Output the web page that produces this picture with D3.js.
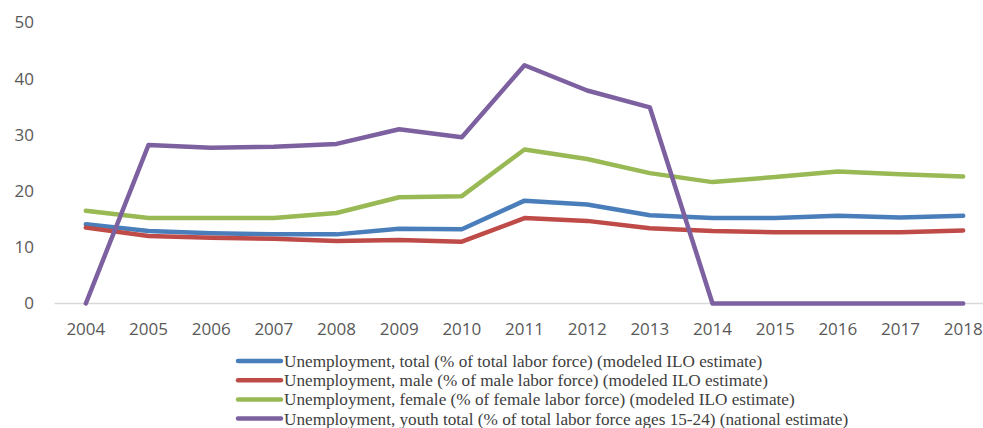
<!DOCTYPE html>
<html>
<head>
<meta charset="utf-8">
<script src="https://cdn.jsdelivr.net/npm/d3@7"></script>
<style>
  body { margin: 0; background: #fff; }
  svg { display: block; }
</style>
</head>
<body>
<script>
// Chart data
const years = [2004, 2005, 2006, 2007, 2008, 2009, 2010, 2011, 2012, 2013, 2014, 2015, 2016, 2017, 2018];
const totalRate  = [14.1, 12.9, 12.5, 12.3, 12.3, 13.3, 13.2, 18.3, 17.6, 15.7, 15.2, 15.2, 15.6, 15.3, 15.6];
const maleRate   = [13.5, 12.0, 11.7, 11.5, 11.1, 11.3, 11.0, 15.2, 14.7, 13.4, 12.9, 12.7, 12.7, 12.7, 13.0];
const femaleRate = [16.5, 15.2, 15.2, 15.2, 16.1, 18.9, 19.1, 27.4, 25.7, 23.2, 21.6, 22.5, 23.5, 23.0, 22.6];
const youthRate  = [0, 28.2, 27.7, 27.9, 28.4, 31.0, 29.6, 42.4, 37.9, 34.9, 0, 0, 0, 0, 0];
const yTicks = [0, 10, 20, 30, 40, 50];
const seriesNames = [
  'Unemployment, total (% of total labor force) (modeled ILO estimate)',
  'Unemployment, male (% of male labor force) (modeled ILO estimate)',
  'Unemployment, female (% of female labor force) (modeled ILO estimate)',
  'Unemployment, youth total (% of total labor force ages 15-24) (national estimate)'
];
const seriesColors = ['#4a7ebb', '#be4b48', '#98b954', '#7d60a0'];

const series = [totalRate, maleRate, femaleRate, youthRate].map((values, i) => ({
  name: seriesNames[i],
  color: seriesColors[i],
  values: values.map((v, j) => ({ year: years[j], value: v }))
}));

const width = 983, height = 428;

const svg = d3.select('body')
  .append('svg')
  .attr('width', width)
  .attr('height', height);

// Scales
const x = d3.scaleBand()
  .domain(years)
  .range([54.5, 994.5]);

const y = d3.scaleLinear()
  .domain([0, 50])
  .range([303.5, 22.5]);

// Y tick labels (no gridlines)
svg.append('g')
  .selectAll('text')
  .data(yTicks)
  .enter()
  .append('text')
  .attr('x', 34)
  .attr('y', d => y(d))
  .attr('dy', '0.35em')
  .attr('text-anchor', 'end')
  .attr('font-family', 'Open Sans, sans-serif')
  .attr('font-size', 17)
  .attr('fill', '#595959')
  .text(d => d);

// X axis line
svg.append('line')
  .attr('x1', x.range()[0])
  .attr('x2', x.range()[1])
  .attr('y1', y(0))
  .attr('y2', y(0))
  .attr('stroke', '#d9d9d9')
  .attr('stroke-width', 1.5);

// X tick labels
svg.append('g')
  .selectAll('text')
  .data(years)
  .enter()
  .append('text')
  .attr('x', d => x(d) + x.bandwidth() / 2)
  .attr('y', 335)
  .attr('text-anchor', 'middle')
  .attr('font-family', 'Open Sans, sans-serif')
  .attr('font-size', 17)
  .attr('fill', '#595959')
  .text(d => d);

// Lines
const line = d3.line()
  .x(d => x(d.year) + x.bandwidth() / 2)
  .y(d => y(d.value));

svg.append('g')
  .selectAll('path')
  .data(series)
  .enter()
  .append('path')
  .attr('d', d => line(d.values))
  .attr('fill', 'none')
  .attr('stroke', d => d.color)
  .attr('stroke-width', 4.5)
  .attr('stroke-linejoin', 'round')
  .attr('stroke-linecap', 'round');

// Legend
const legend = svg.append('g')
  .attr('transform', 'translate(236, 361)');

const rows = legend.selectAll('g')
  .data(series)
  .enter()
  .append('g')
  .attr('transform', (d, i) => `translate(0, ${i * 19.2})`);

rows.append('line')
  .attr('x1', 2)
  .attr('x2', 45)
  .attr('stroke', d => d.color)
  .attr('stroke-width', 4.5)
  .attr('stroke-linecap', 'round');

rows.append('text')
  .attr('x', 48)
  .attr('dy', '0.35em')
  .attr('font-family', 'Liberation Serif, Times New Roman, serif')
  .attr('font-size', 17.2)
  .attr('fill', '#404040')
  .text(d => d.name);
</script>
</body>
</html>
